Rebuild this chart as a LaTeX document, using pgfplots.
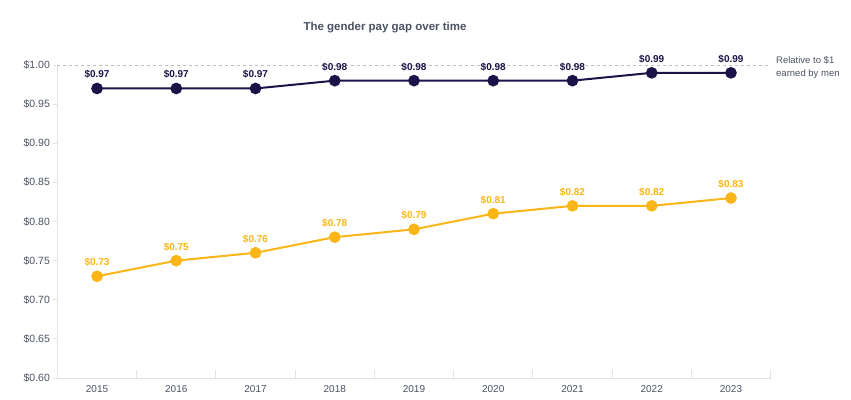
\documentclass[border=0pt]{standalone}
\usepackage{pgfplots}
\pgfplotsset{compat=1.18}
\usepackage{fontspec}
\setmainfont{Liberation Sans}
\definecolor{navy}{HTML}{1C1248}
\definecolor{gold}{HTML}{FBB516}
\definecolor{tickgray}{HTML}{4A5262}
\definecolor{axgray}{HTML}{E2E2E6}
\begin{document}
\begin{tikzpicture}[x=1pt,y=1pt]
\path[use as bounding box] (0,0) rectangle (851,399);
\node[font=\bfseries\fontsize{11.5}{13}\selectfont, text=tickgray, anchor=base] at (385,368) {The gender pay gap over time};
\node[anchor=north west, align=left, inner sep=0pt, font=\fontsize{9.5}{13.5}\selectfont, text=tickgray] at (776,343) {Relative to \$1\\earned by men};
\begin{axis}[
  at={(57.4pt,21pt)}, anchor=south west,
  scale only axis, width=713.2pt, height=313pt,
  xmin=-0.5, xmax=8.5, ymin=0.6, ymax=1.0,
  clip=false,
  axis x line*=bottom, axis y line*=left,
  axis line style={axgray, line width=1pt, -},
  xtick={0,...,8},
  xticklabels={2015,2016,2017,2018,2019,2020,2021,2022,2023},
  xtick style={draw=none},
  ytick={0.6,0.65,0.7,0.75,0.8,0.85,0.9,0.95,1.0},
  yticklabels={\$0.60,\$0.65,\$0.70,\$0.75,\$0.80,\$0.85,\$0.90,\$0.95,\$1.00},
  ytick style={draw=axgray, line width=1pt},
  tick align=outside, major tick length=4pt,
  extra x ticks={0.5,1.5,2.5,3.5,4.5,5.5,6.5,7.5,8.5},
  extra x tick labels={},
  extra x tick style={tick align=inside, major tick length=8pt, xtick style={draw=axgray, line width=1pt}},
  xticklabel style={font=\fontsize{10}{11}\selectfont, text=tickgray},
  yticklabel style={font=\fontsize{10.5}{12}\selectfont, text=tickgray},
  nodes near coords={\$\pgfmathprintnumber[fixed,fixed zerofill,precision=2,assume math mode=true]{\pgfplotspointmeta}},
]
\draw[dashed, black!25, line width=0.8pt] (axis cs:-0.5,1) -- (axis cs:8.5,1);
\addplot[navy, line width=2pt, mark=*, mark size=4.8pt,
  nodes near coords style={font=\bfseries\fontsize{10}{12}\selectfont, text=navy, anchor=base, inner sep=0pt, yshift=10.5pt}]
  coordinates {(0,0.97) (1,0.97) (2,0.97) (3,0.98) (4,0.98) (5,0.98) (6,0.98) (7,0.99) (8,0.99)};
\addplot[gold, line width=2pt, mark=*, mark size=4.8pt,
  nodes near coords style={font=\bfseries\fontsize{10}{12}\selectfont, text=gold, anchor=base, inner sep=0pt, yshift=10.5pt}]
  coordinates {(0,0.73) (1,0.75) (2,0.76) (3,0.78) (4,0.79) (5,0.81) (6,0.82) (7,0.82) (8,0.83)};
\end{axis}
\end{tikzpicture}
\end{document}
